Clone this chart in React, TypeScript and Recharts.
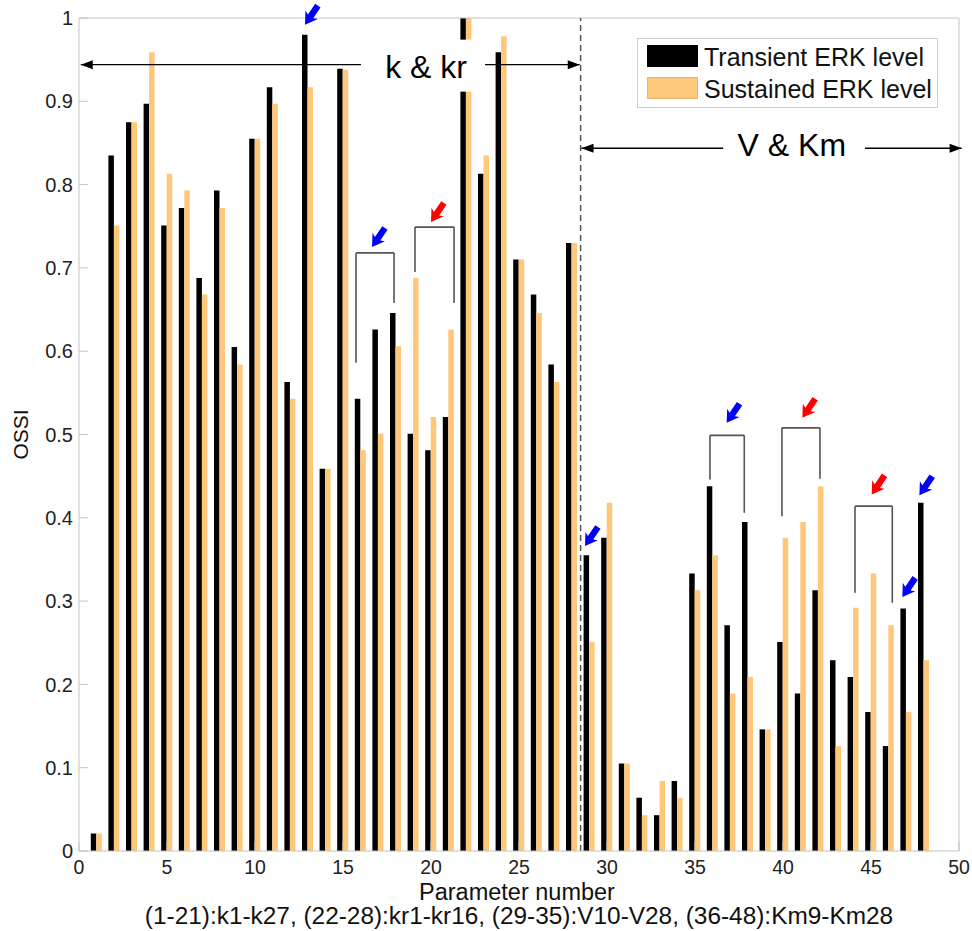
import React from 'react';
import { BarChart, Bar, XAxis, YAxis, ReferenceLine, ReferenceDot, Legend } from 'recharts';

const paramNumbers = [1, 2, 3, 4, 5, 6, 7, 8, 9, 10, 11, 12, 13, 14, 15, 16, 17, 18, 19, 20, 21, 22, 23, 24, 25, 26, 27, 28, 29, 30, 31, 32, 33, 34, 35, 36, 37, 38, 39, 40, 41, 42, 43, 44, 45, 46, 47, 48];
const transientERK = [0.021, 0.835, 0.875, 0.897, 0.751, 0.772, 0.688, 0.793, 0.605, 0.855, 0.917, 0.563, 0.980, 0.459, 0.939, 0.543, 0.626, 0.646, 0.501, 0.481, 0.521, 1.0, 0.813, 0.959, 0.710, 0.668, 0.584, 0.730, 0.355, 0.376, 0.105, 0.064, 0.043, 0.084, 0.333, 0.438, 0.271, 0.395, 0.146, 0.251, 0.189, 0.313, 0.229, 0.209, 0.167, 0.126, 0.291, 0.418];
const sustainedERK = [0.021, 0.751, 0.875, 0.959, 0.813, 0.793, 0.668, 0.772, 0.584, 0.855, 0.897, 0.543, 0.917, 0.459, 0.938, 0.481, 0.501, 0.606, 0.688, 0.521, 0.626, 1.0, 0.835, 0.978, 0.710, 0.646, 0.563, 0.730, 0.251, 0.418, 0.105, 0.043, 0.084, 0.064, 0.313, 0.355, 0.189, 0.209, 0.146, 0.376, 0.395, 0.438, 0.126, 0.292, 0.333, 0.271, 0.167, 0.229];
const xTicks = [0, 5, 10, 15, 20, 25, 30, 35, 40, 45, 50];
const yTicks = [0, 0.1, 0.2, 0.3, 0.4, 0.5, 0.6, 0.7, 0.8, 0.9, 1];
const seriesNames = ['Transient ERK level', 'Sustained ERK level'];
const seriesColors = ['#000000', '#FFC77A'];
const xLabel = 'Parameter number';
const xSubLabel = '(1-21):k1-k27, (22-28):kr1-kr16, (29-35):V10-V28, (36-48):Km9-Km28';
const yLabel = 'OSSI';

// annotation anchors (data coordinates)
const blueArrows = [
  { x: 12.84, y: 0.992 },
  { x: 16.65, y: 0.725 },
  { x: 28.75, y: 0.366 },
  { x: 36.8, y: 0.514 },
  { x: 46.78, y: 0.305 },
  { x: 47.75, y: 0.427 },
];
const redArrows = [
  { x: 20.0, y: 0.755 },
  { x: 41.1, y: 0.52 },
  { x: 45.04, y: 0.428 },
];
const brackets = [
  { x1: 15.74, x2: 17.9, top: 0.718, left: 0.586, right: 0.658 },
  { x1: 19.09, x2: 21.31, top: 0.749, left: 0.695, right: 0.658 },
  { x1: 35.85, x2: 37.8, top: 0.499, left: 0.446, right: 0.406 },
  { x1: 39.94, x2: 42.1, top: 0.508, left: 0.402, right: 0.447 },
  { x1: 44.09, x2: 46.21, top: 0.414, left: 0.31, right: 0.298 },
];
const kGroup = { label: 'k & kr', y: 0.944, start: 0.1, gapStart: 16.02, gapEnd: 22.95, end: 28.45, textX: 19.72 };
const vGroup = { label: 'V & Km', y: 0.8436, start: 28.55, gapStart: 36.6, gapEnd: 44.66, end: 50.15, textX: 40.5 };
const dividerX = 28.5;

const data = paramNumbers.map((p, i) => ({ param: p, transient: transientERK[i], sustained: sustainedERK[i] }));

const FONT = '"Liberation Sans", Arial, Helvetica, sans-serif';

const FatArrow = (props: any) => {
  const { cx, cy, color } = props;
  if (cx == null || cy == null) return null;
  return (
    <polygon
      points="0,0 12,-7.5 10,-3.2 23,-3.2 23,3.2 10,3.2 12,7.5"
      transform={`translate(${cx},${cy}) rotate(-56)`}
      fill={color}
    />
  );
};

const HeadLeft = (props: any) => {
  const { cx, cy } = props;
  return <polygon points="0,0 12,-4.5 12,4.5" transform={`translate(${cx},${cy})`} fill="#000" />;
};
const HeadRight = (props: any) => {
  const { cx, cy } = props;
  return <polygon points="0,0 -12,-4.5 -12,4.5" transform={`translate(${cx},${cy})`} fill="#000" />;
};

const BoxedText = (props: any) => {
  const { cx, cy, text, boxLeft, boxRight, boxTop, boxBottom, dy } = props;
  return (
    <g>
      <rect x={cx - boxLeft} y={cy - boxTop} width={boxLeft + boxRight} height={boxTop + boxBottom} fill="#fff" />
      <text x={cx} y={cy + dy} textAnchor="middle" fontFamily={FONT} fontSize={32} fill="#000">
        {text}
      </text>
    </g>
  );
};

const LegendBox = () => (
  <div
    style={{
      position: 'relative',
      width: 301,
      height: 70,
      boxSizing: 'border-box',
      border: '1px solid #cfcfcf',
      background: '#fff',
      fontFamily: FONT,
    }}
  >
    {seriesNames.map((name, i) => (
      <React.Fragment key={name}>
        <div
          style={{
            position: 'absolute',
            left: 9,
            top: i === 0 ? 6 : 38,
            width: 51,
            height: 22,
            background: seriesColors[i],
            boxSizing: 'border-box',
            border: i === 1 ? '1px solid #e8b46a' : 'none',
          }}
        />
        <div
          style={{
            position: 'absolute',
            left: 66,
            top: i === 0 ? 4 : 36,
            fontSize: 25,
            lineHeight: '28px',
            color: '#111',
            whiteSpace: 'nowrap',
          }}
        >
          {name}
        </div>
      </React.Fragment>
    ))}
  </div>
);

const XLabelContent = (props: any) => {
  const vb = props.viewBox || {};
  const cx = vb.x + vb.width / 2 - 2;
  return (
    <g>
      <text x={cx} y={vb.y + 48.5} textAnchor="middle" fontFamily={FONT} fontSize={23.5} fill="#111">
        {xLabel}
      </text>
      <text x={cx + 2} y={vb.y + 73} textAnchor="middle" fontFamily={FONT} fontSize={24.4} fill="#111">
        {xSubLabel}
      </text>
    </g>
  );
};

const YLabelContent = (props: any) => {
  const vb = props.viewBox || {};
  const x = vb.x + 9;
  const y = vb.y + vb.height / 2;
  return (
    <text x={x} y={y} transform={`rotate(-90, ${x}, ${y})`} textAnchor="middle" fontFamily={FONT} fontSize={21} fill="#111">
      {yLabel}
    </text>
  );
};

const axisGray = '#c4c4c4';
const AX = { xAxisId: 'b', yAxisId: 'l' } as const;

export default function App() {
  return (
    <div style={{ position: 'absolute', left: 0, top: 0, width: 972, height: 931, background: '#fff' }}>
      <BarChart
        width={972}
        height={931}
        data={data}
        margin={{ top: 18, right: 13, bottom: 50, left: 19 }}
        barGap={0}
      >
        <XAxis
          xAxisId="b"
          type="number"
          dataKey="param"
          domain={[0, 50]}
          ticks={xTicks}
          allowDataOverflow
          height={30}
          tickSize={-9}
          tickMargin={18.5}
          axisLine={{ stroke: axisGray }}
          tickLine={{ stroke: axisGray }}
          tick={{ fill: '#222', fontSize: 19.5, fontFamily: FONT }}
          label={{ content: XLabelContent }}
        />
        <XAxis
          xAxisId="t"
          orientation="top"
          type="number"
          dataKey="param"
          domain={[0, 50]}
          ticks={xTicks}
          allowDataOverflow
          height={0}
          tickSize={-9}
          axisLine={{ stroke: axisGray }}
          tickLine={{ stroke: axisGray }}
          tick={false}
        />
        <YAxis
          yAxisId="l"
          type="number"
          domain={[0, 1]}
          ticks={yTicks}
          allowDataOverflow
          width={60}
          tickSize={-9}
          tickMargin={15}
          axisLine={{ stroke: axisGray }}
          tickLine={{ stroke: axisGray }}
          tick={{ fill: '#222', fontSize: 20, fontFamily: FONT }}
          label={{ content: YLabelContent }}
        />
        <YAxis
          yAxisId="r"
          orientation="right"
          type="number"
          domain={[0, 1]}
          ticks={yTicks}
          allowDataOverflow
          width={0}
          tickSize={-9}
          axisLine={{ stroke: axisGray }}
          tickLine={{ stroke: axisGray }}
          tick={false}
        />
        <Legend
          layout="vertical"
          align="center"
          verticalAlign="middle"
          wrapperStyle={{ top: 38, left: 637, width: 301, height: 70 }}
          content={() => <LegendBox />}
        />
        <Bar {...AX} dataKey="transient" name={seriesNames[0]} fill={seriesColors[0]} barSize={5.5} isAnimationActive={false} />
        <Bar {...AX} dataKey="sustained" name={seriesNames[1]} fill={seriesColors[1]} barSize={5.5} isAnimationActive={false} />

        <ReferenceLine {...AX} y={1} stroke={axisGray} strokeWidth={1} />
        <ReferenceLine {...AX} x={50} stroke={axisGray} strokeWidth={1} />
        <ReferenceLine {...AX} x={dividerX} stroke="#555" strokeWidth={1.5} strokeDasharray="6 4" />

        {[kGroup, vGroup].map((g) => (
          <React.Fragment key={g.label}>
            <ReferenceLine {...AX} ifOverflow="visible" segment={[{ x: g.start, y: g.y }, { x: g.gapStart, y: g.y }]} stroke="#000" strokeWidth={1.4} />
            <ReferenceLine {...AX} ifOverflow="visible" segment={[{ x: g.gapEnd, y: g.y }, { x: g.end, y: g.y }]} stroke="#000" strokeWidth={1.4} />
          </React.Fragment>
        ))}

        {brackets.map((b, i) => (
          <React.Fragment key={'br' + i}>
            <ReferenceLine {...AX} segment={[{ x: b.x1, y: b.left }, { x: b.x1, y: b.top }]} stroke="#555" strokeWidth={1.6} />
            <ReferenceLine {...AX} segment={[{ x: b.x1, y: b.top }, { x: b.x2, y: b.top }]} stroke="#555" strokeWidth={1.6} />
            <ReferenceLine {...AX} segment={[{ x: b.x2, y: b.top }, { x: b.x2, y: b.right }]} stroke="#555" strokeWidth={1.6} />
          </React.Fragment>
        ))}

        <ReferenceDot {...AX} ifOverflow="visible" x={kGroup.textX} y={kGroup.y}
          shape={(p: any) => <BoxedText {...p} text={kGroup.label} boxLeft={63} boxRight={59} boxTop={25} boxBottom={27} dy={13} />} />
        <ReferenceDot {...AX} ifOverflow="visible" x={vGroup.textX} y={vGroup.y}
          shape={(p: any) => <BoxedText {...p} text={vGroup.label} boxLeft={0} boxRight={0} boxTop={0} boxBottom={0} dy={8} />} />

        <ReferenceDot {...AX} ifOverflow="visible" x={kGroup.start} y={kGroup.y} shape={HeadLeft} />
        <ReferenceDot {...AX} ifOverflow="visible" x={kGroup.end} y={kGroup.y} shape={HeadRight} />
        <ReferenceDot {...AX} ifOverflow="visible" x={vGroup.start} y={vGroup.y} shape={HeadLeft} />
        <ReferenceDot {...AX} ifOverflow="visible" x={vGroup.end} y={vGroup.y} shape={HeadRight} />

        {blueArrows.map((a, i) => (
          <ReferenceDot key={'ba' + i} {...AX} ifOverflow="visible" x={a.x} y={a.y} shape={(p: any) => <FatArrow {...p} color="#0000FF" />} />
        ))}
        {redArrows.map((a, i) => (
          <ReferenceDot key={'ra' + i} {...AX} ifOverflow="visible" x={a.x} y={a.y} shape={(p: any) => <FatArrow {...p} color="#FF0000" />} />
        ))}
      </BarChart>
    </div>
  );
}
